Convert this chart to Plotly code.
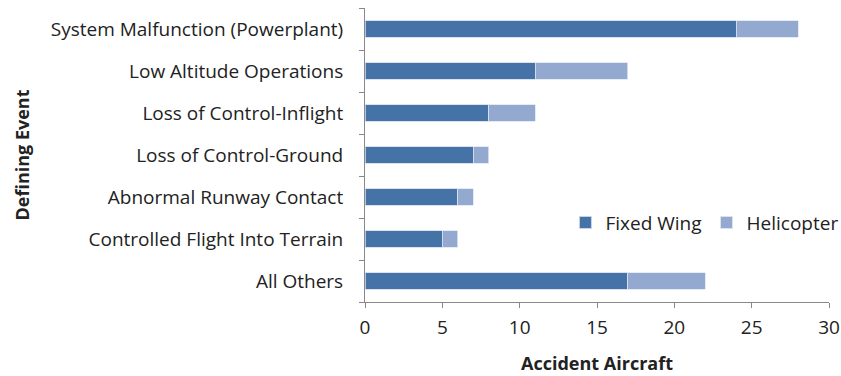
import plotly.graph_objects as go

# Accident counts by defining event, split by aircraft type
events = [
    "System Malfunction (Powerplant)",
    "Low Altitude Operations",
    "Loss of Control-Inflight",
    "Loss of Control-Ground",
    "Abnormal Runway Contact",
    "Controlled Flight Into Terrain",
    "All Others",
]
fixed_wing = [24, 11, 8, 7, 6, 5, 17]
helicopter = [4, 6, 3, 1, 1, 1, 5]
x_ticks = [0, 5, 10, 15, 20, 25, 30]

FONT = "Open Sans"
AXIS_GREY = "#888888"
TEXT = "#222222"

fig = go.Figure()
fig.add_trace(go.Bar(
    y=events, x=fixed_wing, name="Fixed Wing", orientation="h",
    marker=dict(color="#4573A8", line=dict(color="#d0dbe9", width=0.8)),
))
fig.add_trace(go.Bar(
    y=events, x=helicopter, name="Helicopter", orientation="h",
    marker=dict(color="#94A9D0", line=dict(color="#dfe6f2", width=0.8)),
))

fig.update_layout(
    width=841, height=376,
    barmode="stack", bargap=0.6,
    plot_bgcolor="white", paper_bgcolor="white",
    margin=dict(l=365, r=12, t=8, b=74, autoexpand=False),
    font=dict(family=FONT, size=19, color=TEXT),
    legend=dict(
        orientation="h", x=0.432, y=0.27, xanchor="left", yanchor="middle",
        font=dict(size=19, color=TEXT), bgcolor="rgba(0,0,0,0)",
        traceorder="normal",
    ),
    xaxis=dict(
        range=[0, 30], tickvals=x_ticks, showgrid=False, zeroline=False,
        automargin=False,
        showline=True, linecolor=AXIS_GREY, linewidth=1,
        ticks="outside", ticklen=5, tickcolor=AXIS_GREY,
        ticklabelstandoff=3,
        tickfont=dict(size=19, color=TEXT),
        title=dict(text="<b>Accident Aircraft</b>", font=dict(size=18, color=TEXT), standoff=18),
    ),
    yaxis=dict(
        categoryorder="array", categoryarray=events[::-1],
        automargin=False,
        showgrid=False, showline=True, linecolor=AXIS_GREY, linewidth=1,
        ticks="outside", ticklen=5, tickcolor=AXIS_GREY, tickson="boundaries",
        ticklabelstandoff=17,
        tickfont=dict(size=19, color=TEXT),
        title=dict(text="<b>Defining Event</b>", font=dict(size=18, color=TEXT), standoff=16),
    ),
)

fig.write_html("out.html")
